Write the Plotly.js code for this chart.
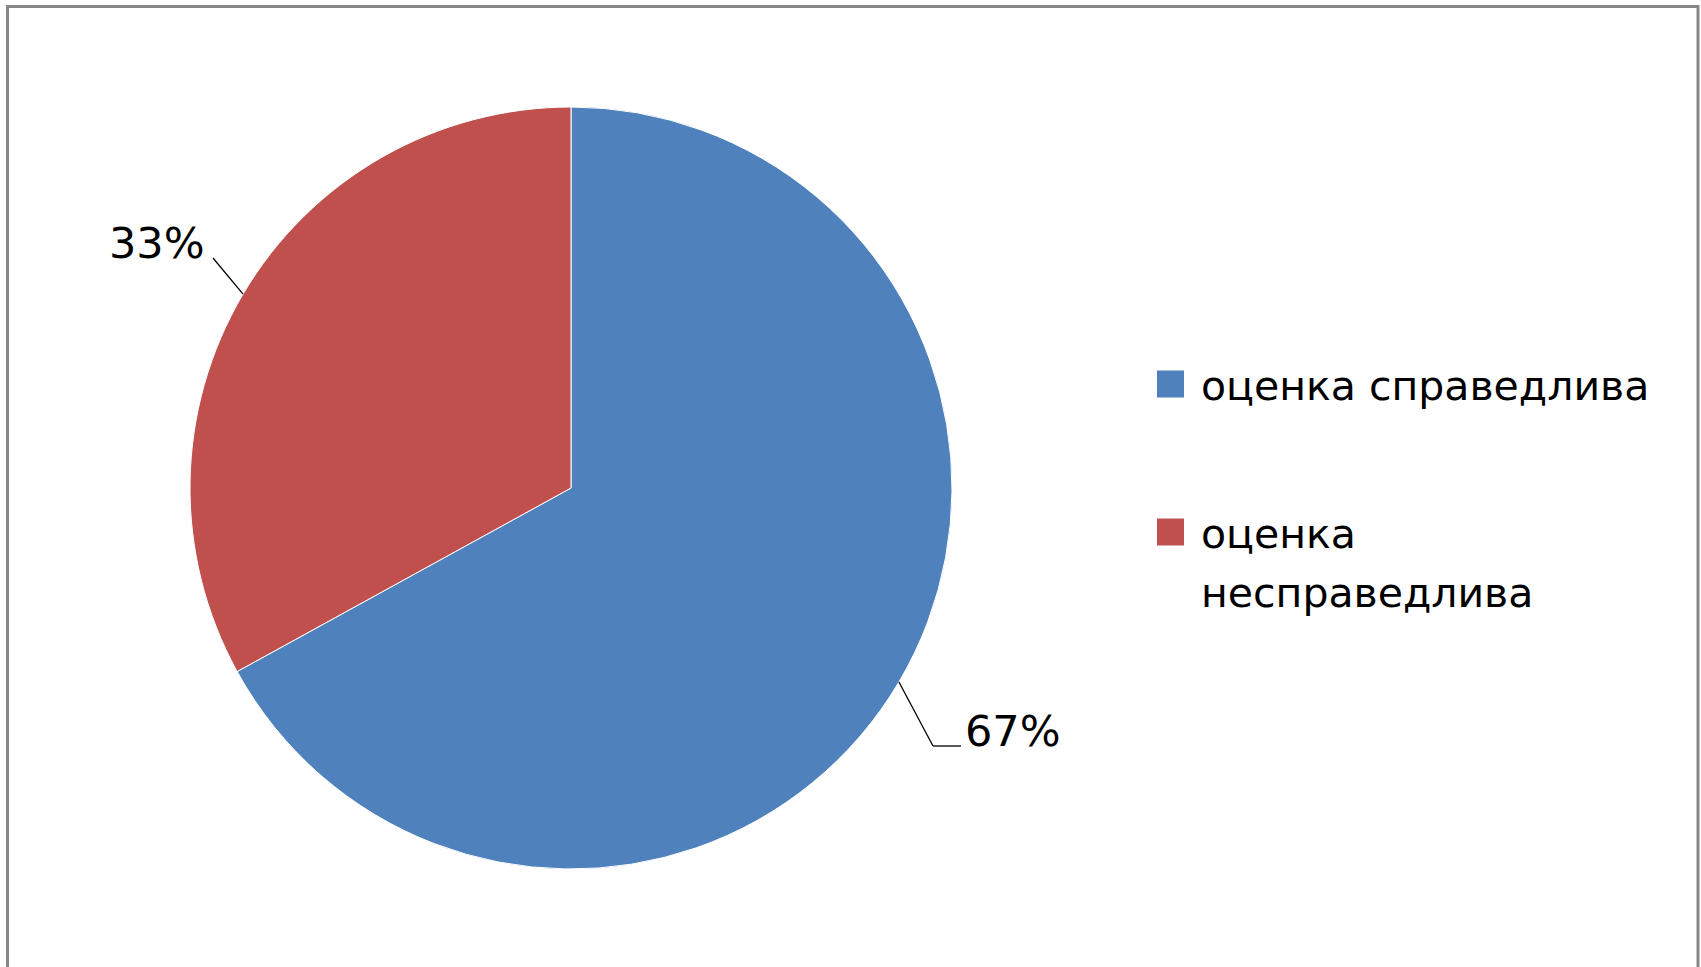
<!DOCTYPE html>
<html><head><meta charset="utf-8">
<script src="https://cdn.plot.ly/plotly-3.0.1.min.js"></script>
<style>html,body{margin:0;padding:0;background:#fff;}#chart{width:1701px;height:967px;}</style>
</head><body><div id="chart"></div>
<script>
// ---- data ----
const labels = ['оценка справедлива', 'оценка несправедлива'];
const values = [67, 33];
const colors = ['#4F81BD', '#C0504D'];

// ---- layout constants (pixels) ----
const W = 1701, H = 967;
const CX = 571, CY = 488, R = 381;
const FONT = 'DejaVu Sans, Verdana, sans-serif';
const PCT_SIZE = 43, LEG_SIZE = 41;
const px = v => v / W;
const py = v => 1 - v / H;

const total = values.reduce((a, b) => a + b, 0);
const pctText = values.map(v => Math.round(v / total * 100) + '%');

// slice mid-angle edge points (clockwise from 12 o'clock)
let cum = 0;
const edge = values.map(v => {
  const f = v / total;
  const th = 2 * Math.PI * (cum + f / 2);
  cum += f;
  return [CX + R * Math.sin(th), CY - R * Math.cos(th)];
});

// label placement (layout): elbow/leader endpoints and text anchors
const labelPlace = [
  {pts: [[933, 746], [961, 746]], tx: 963, ty: 731, xa: 'left'},
  {pts: [[213, 258]], tx: 207, ty: 243, xa: 'right'}
];

const shapes = [];
const annotations = [];
labelPlace.forEach((p, i) => {
  let prev = edge[i];
  p.pts.forEach(q => {
    shapes.push({type: 'line', xref: 'paper', yref: 'paper',
      x0: px(prev[0]), y0: py(prev[1]), x1: px(q[0]), y1: py(q[1]),
      line: {color: '#000', width: 1.3}});
    prev = q;
  });
  annotations.push({xref: 'paper', yref: 'paper', x: px(p.tx), y: py(p.ty),
    xanchor: p.xa, yanchor: 'middle', showarrow: false, text: pctText[i],
    font: {family: FONT, size: PCT_SIZE, color: '#000'}});
});

// manual legend
const LEG_SQ_X = 1157, LEG_SQ = 27, LEG_TX = 1199;
const legTop = [386, 534];
const LINE_H = 59;
const wrapMax = 18;
function wrap(s) {
  const words = s.split(' ');
  const lines = [];
  let cur = '';
  words.forEach(w => {
    const t = cur ? cur + ' ' + w : w;
    if (t.length > wrapMax && cur) { lines.push(cur); cur = w; } else cur = t;
  });
  if (cur) lines.push(cur);
  return lines;
}
labels.forEach((lab, i) => {
  const yc = legTop[i];
  shapes.push({type: 'rect', xref: 'paper', yref: 'paper',
    x0: px(LEG_SQ_X), x1: px(LEG_SQ_X + LEG_SQ),
    y0: py(yc - 2 + LEG_SQ / 2), y1: py(yc - 2 - LEG_SQ / 2),
    fillcolor: colors[i], line: {width: 0}});
  wrap(lab).forEach((ln, k) => {
    annotations.push({xref: 'paper', yref: 'paper', x: px(LEG_TX), y: py(yc + k * LINE_H),
      xanchor: 'left', yanchor: 'middle', showarrow: false, text: ln,
      font: {family: FONT, size: LEG_SIZE, color: '#000'}});
  });
});

// outer frame
shapes.push({type: 'rect', xref: 'paper', yref: 'paper',
  x0: px(7.5), x1: px(1698), y0: py(990), y1: py(6.5),
  line: {color: '#878787', width: 3}, fillcolor: 'rgba(0,0,0,0)'});

const trace = {
  type: 'pie', labels: labels, values: values, sort: false,
  direction: 'clockwise', rotation: 0, textinfo: 'none', hoverinfo: 'label+percent',
  marker: {colors: colors, line: {color: '#ffffff', width: 1}},
  domain: {x: [px(CX - R), px(CX + R)], y: [py(CY + R), py(CY - R)]},
  automargin: false
};

const layout = {
  width: W, height: H, margin: {l: 0, r: 0, t: 0, b: 0},
  paper_bgcolor: '#fff', plot_bgcolor: '#fff', showlegend: false,
  font: {family: FONT},
  shapes: shapes, annotations: annotations
};

Plotly.newPlot('chart', [trace], layout, {displayModeBar: false});
</script>
</body></html>
